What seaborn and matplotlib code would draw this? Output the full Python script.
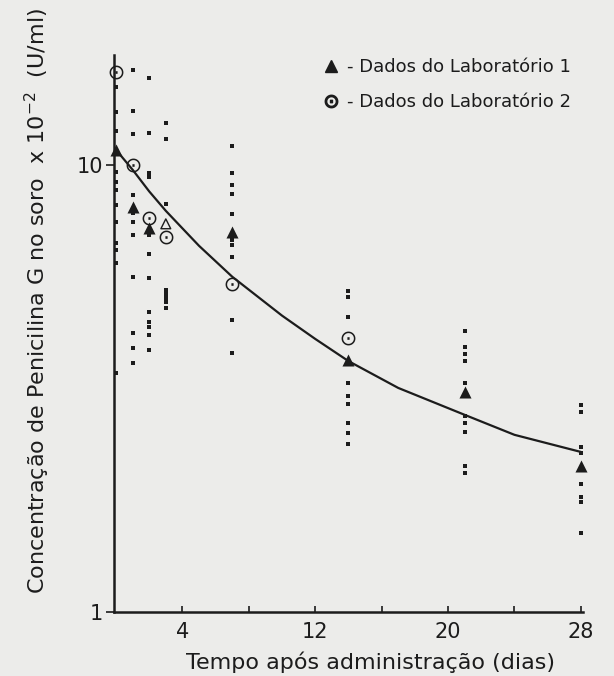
import matplotlib
matplotlib.use("Agg")
import matplotlib.pyplot as plt
from matplotlib.lines import Line2D
from matplotlib.ticker import NullLocator
import seaborn as sns
import pandas as pd

# pontos individuais (U/ml x 10^-2)
dias_coletas = [0, 1, 2, 3, 7, 14, 21, 28]
pontos_d0 = [14.9, 13.1, 11.9, 9.65, 9.16, 8.79, 8.14, 7.46, 6.69, 6.45, 6.04, 3.42]
pontos_d1 = [16.3, 13.2, 11.7, 8.57, 7.81, 7.46, 6.97, 5.62, 4.21, 3.90, 3.61]
pontos_d2 = [15.6, 11.8, 9.60, 9.40, 6.97, 6.32, 5.59, 4.69, 4.46, 4.34, 4.17, 3.86]
pontos_d3 = [12.4, 11.4, 8.18, 5.25, 5.15, 5.04, 4.94, 4.79]
pontos_d7 = [11.0, 9.60, 9.02, 8.61, 7.77, 6.80, 6.62, 6.23, 4.50, 3.80]
pontos_d14 = [5.23, 5.07, 4.57, 3.25, 3.04, 2.92, 2.65, 2.51, 2.38]
pontos_d21 = [4.25, 3.92, 3.78, 3.64, 3.25, 2.74, 2.65, 2.53, 2.12, 2.05]
pontos_d28 = [2.90, 2.80, 2.34, 2.27, 1.93, 1.81, 1.76, 1.50]

# medias dos laboratorios
lab1_dias = [0, 1, 2, 7, 14, 21, 28]
lab1_conc = [10.8, 8.05, 7.23, 7.08, 3.66, 3.11, 2.12]
lab2_dias = [0, 1, 2, 3, 7, 14]
lab2_conc = [16.1, 10.0, 7.61, 6.90, 5.42, 4.10]
lab1_aberto_dias = [3]
lab1_aberto_conc = [7.38]

# curva ajustada
curva_dias = [0, 1, 2, 3, 4, 5, 7, 10, 12, 14, 17, 21, 24, 28]
curva_conc = [10.8, 9.75, 8.72, 7.89, 7.21, 6.59, 5.62, 4.60, 4.08,
              3.64, 3.17, 2.76, 2.49, 2.28]

x_ticks = [4, 8, 12, 16, 20, 24, 28]
x_labels = ["4", "", "12", "", "20", "", "28"]


def monta_pontos():
    colunas = [pontos_d0, pontos_d1, pontos_d2, pontos_d3,
               pontos_d7, pontos_d14, pontos_d21, pontos_d28]
    linhas = []
    for dia, valores in zip(dias_coletas, colunas):
        for v in valores:
            linhas.append((dia, v))
    return pd.DataFrame(linhas, columns=["dia", "conc"])


sns.set_style("ticks")
plt.rcParams["font.family"] = ["DejaVu Sans"]
tinta = "#1c1c1c"
fundo = "#ececea"

fig = plt.figure(figsize=(6.14, 6.76), dpi=100, facecolor=fundo)
ax = fig.add_axes([0.1857, 0.0947, 0.7638, 0.8239], facecolor=fundo)

df = monta_pontos()
sns.scatterplot(data=df, x="dia", y="conc", marker="s", s=7, color=tinta,
                linewidth=0, ax=ax, clip_on=False, zorder=3)
sns.lineplot(x=curva_dias, y=curva_conc, color=tinta, lw=1.6, ax=ax, zorder=2)
sns.scatterplot(x=lab1_dias, y=lab1_conc, marker="^", s=75, color=tinta,
                linewidth=0, ax=ax, clip_on=False, zorder=4)
sns.scatterplot(x=lab1_aberto_dias, y=lab1_aberto_conc, marker="^", s=50,
                facecolor="none", edgecolor=tinta, linewidth=1, ax=ax, zorder=4)
sns.scatterplot(x=lab2_dias, y=lab2_conc, marker="$\\odot$", s=100, color=tinta,
                linewidth=0, ax=ax, clip_on=False, zorder=4)

ax.set_yscale("log")
ax.set_xlim(-0.12, 28.13)
ax.set_ylim(1, 17.6)
ax.set_yticks([1, 10])
ax.set_yticklabels(["1", "10"])
ax.yaxis.set_minor_locator(NullLocator())
ax.set_xticks(x_ticks)
ax.set_xticklabels(x_labels)
ax.tick_params(axis="x", direction="in", length=4, width=1.2, colors=tinta,
               labelsize=15, pad=7)
ax.tick_params(axis="y", direction="out", length=6, width=1.2, colors=tinta,
               labelsize=15, pad=2)

for lado in ["top", "right"]:
    ax.spines[lado].set_visible(False)
for lado in ["left", "bottom"]:
    ax.spines[lado].set_linewidth(1.8)
    ax.spines[lado].set_color(tinta)

ax.set_xlabel("Tempo após administração (dias)", fontsize=16, color=tinta)
ax.xaxis.set_label_coords((370 - 114) / 469, -(662 - 612) / 557)
ax.set_ylabel("Concentração de Penicilina G no soro  x 10$^{-2}$  (U/ml)",
              fontsize=16, color=tinta)
ax.yaxis.set_label_coords((37 - 114) / 469, (612 - 301) / 557)
ax.xaxis.label.set_va("center")
ax.yaxis.label.set_va("center")

alcas = [
    Line2D([], [], marker="^", color=tinta, ls="none", markersize=8.5),
    Line2D([], [], marker="$\\odot$", color=tinta, ls="none", markersize=9),
]
ax.legend(alcas, ["- Dados do Laboratório 1", "- Dados do Laboratório 2"],
          loc="upper left", bbox_to_anchor=(313 / 614, 1 - 49 / 676),
          bbox_transform=fig.transFigure, frameon=False, fontsize=13,
          handlelength=1.0, handletextpad=0.4, labelspacing=0.95,
          borderpad=0, labelcolor=tinta)

fig.savefig("out.png", dpi=100, facecolor=fundo)
